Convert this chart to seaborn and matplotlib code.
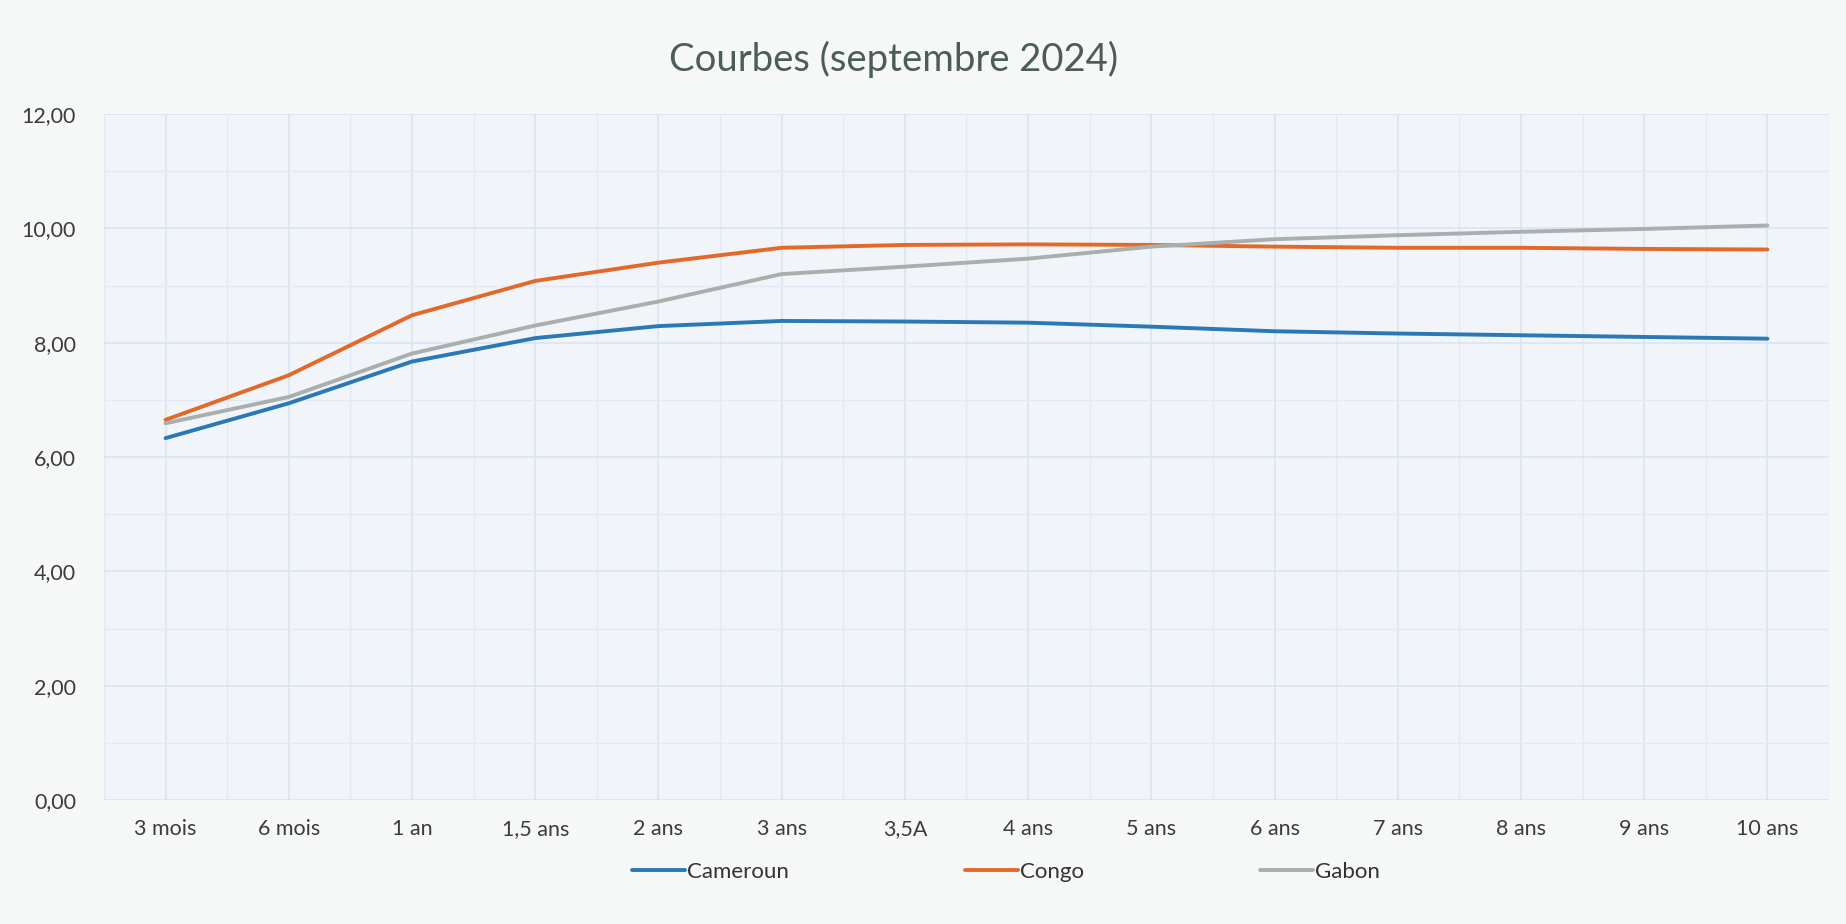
import seaborn as sns
import pandas as pd
import matplotlib.pyplot as plt
from matplotlib.ticker import FixedLocator, FuncFormatter


echeances = ['3 mois', '6 mois', '1 an', '1,5 ans', '2 ans', '3 ans', '3,5A',
             '4 ans', '5 ans', '6 ans', '7 ans', '8 ans', '9 ans', '10 ans']
cameroun = [6.33, 6.94, 7.67, 8.08, 8.29, 8.38, 8.37, 8.35, 8.28, 8.20, 8.16, 8.13, 8.10, 8.07]
congo = [6.65, 7.43, 8.48, 9.08, 9.40, 9.66, 9.71, 9.72, 9.71, 9.68, 9.66, 9.66, 9.64, 9.63]
gabon = [6.59, 7.05, 7.81, 8.30, 8.72, 9.20, 9.33, 9.47, 9.68, 9.81, 9.88, 9.94, 9.99, 10.05]
pays = ['Cameroun', 'Congo', 'Gabon']
couleurs = ['#2a78b5', '#e2692a', '#a9afac']
titre = 'Courbes (septembre 2024)'


def build_frame():
    rows = []
    for nom, valeurs in zip(pays, [cameroun, congo, gabon]):
        for ech, val in zip(echeances, valeurs):
            rows.append({'echeance': ech, 'taux': val, 'pays': nom})
    return pd.DataFrame(rows)


sns.set_theme(style='white')
plt.rcParams['font.family'] = ['Lato', 'DejaVu Sans']

df = build_frame()
fig = plt.figure(figsize=(18.46, 9.24), dpi=100, facecolor='#f6f7f7')
ax = fig.add_axes([0.0563, 0.1342, 0.9345, 0.7424])
ax.set_facecolor('#f1f4f9')

sns.lineplot(data=df, x='echeance', y='taux', hue='pays', palette=couleurs,
             sort=False, linewidth=2.8, ax=ax, legend=True)

ax.set_xlim(-0.5, len(echeances) - 0.5)
ax.set_ylim(0, 12)
ax.set_yticks(range(0, 13, 2))
ax.yaxis.set_major_formatter(FuncFormatter(lambda v, p: f'{v:.2f}'.replace('.', ',')))
ax.yaxis.set_minor_locator(FixedLocator(range(1, 12, 2)))
ax.xaxis.set_minor_locator(FixedLocator([i - 0.5 for i in range(len(echeances) + 1)]))

ax.grid(which='major', axis='both', color='#d9e4f2', linewidth=1.2)
ax.grid(which='minor', axis='both', color='#e3eaf5', linewidth=1.0)
ax.set_axisbelow(True)
for s in ax.spines.values():
    s.set_visible(False)

ax.tick_params(axis='both', which='both', length=0, labelsize=15.5, colors='#3c3c3c')
ax.tick_params(axis='x', pad=14)
ax.tick_params(axis='y', pad=20)
ax.set_xlabel('')
ax.set_ylabel('')

handles, labels = ax.get_legend_handles_labels()
ax.get_legend().remove()
fig.legend(handles, labels, loc='center', bbox_to_anchor=(0.545, 0.056), ncol=3,
           frameon=False, fontsize=16, handlelength=2.4, handletextpad=0.1,
           columnspacing=7.9, labelcolor='#333333')

fig.text(0.484, 0.936, titre, ha='center', va='center', fontsize=27.5, color='#4c5c57')

fig.savefig('out.png', dpi=100, facecolor=fig.get_facecolor())
